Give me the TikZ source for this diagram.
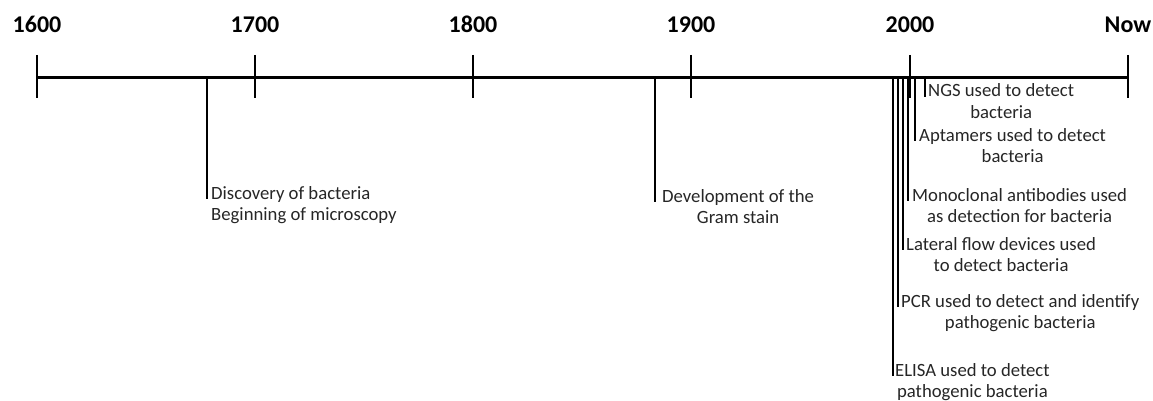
\documentclass[tikz,border=0pt]{standalone}
\usepackage{fontspec}
\setmainfont{Carlito}
\usetikzlibrary{positioning,calc}
\tikzset{
  axisline/.style={line width=3pt, black},
  tickmark/.style={line width=2.6pt, black},
  eventline/.style={line width=2.2pt, black},
  yearlabel/.style={font=\fontsize{24}{28}\selectfont\bfseries, anchor=base, inner sep=0pt},
  eventtext/.style={font=\fontsize{18.7}{21.5}\selectfont, anchor=base west,
                    inner sep=0pt, text=black!85},
}

\begin{document}
\begin{tikzpicture}[x=1pt,y=-1pt]
  \useasboundingbox (0,0) rectangle (1153,401);

  % \timeevent{name}{line x}{first baseline}{text x}{alignment}{text}
  % (base anchor sits on the second line, hence the +21.5)
  \newcommand{\timeevent}[6]{%
    \coordinate (#1top) at (#2,78);
    \coordinate (#1end) at (#2,#3);
    \node[eventtext, align=#5] (#1) at (#4,#3+21.5) {#6};
    \draw[eventline] (#1top) -- (#1end);
  }

  % time axis
  \coordinate (axisstart) at (37,78);
  \coordinate (axisend) at (1128,78);
  \draw[axisline] (axisstart) -- (axisend);

  % century ticks
  \foreach \yr/\xx in {1600/37,1700/255,1800/473,1900/691,2000/910,Now/1128}{
    \coordinate (tick\yr) at (\xx,78);
    \draw[tickmark] ($(tick\yr)+(0,-23)$) -- ($(tick\yr)+(0,20)$);
    \node[yearlabel] (label\yr) at (\xx,33) {\yr};
  }

  % events
  \timeevent{discovery}{207}{199}{211}{left}{Discovery of bacteria\\Beginning of microscopy}
  \timeevent{gram}{655}{202}{662}{center}{Development of the\\Gram stain}
  \timeevent{elisa}{893}{376}{895}{center}{ELISA used to detect\\pathogenic bacteria}
  \timeevent{pcr}{898}{307}{901}{center}{PCR used to detect and identify\\pathogenic bacteria}
  \timeevent{lateral}{903}{250}{906}{center}{Lateral flow devices used\\to detect bacteria}
  \timeevent{monoclonal}{908}{201}{912}{center}{Monoclonal antibodies used\\as detection for bacteria}
  \timeevent{aptamers}{915}{141}{919}{center}{Aptamers used to detect\\bacteria}
  \timeevent{ngs}{925}{97}{928}{center}{NGS used to detect\\bacteria}

\end{tikzpicture}
\end{document}
